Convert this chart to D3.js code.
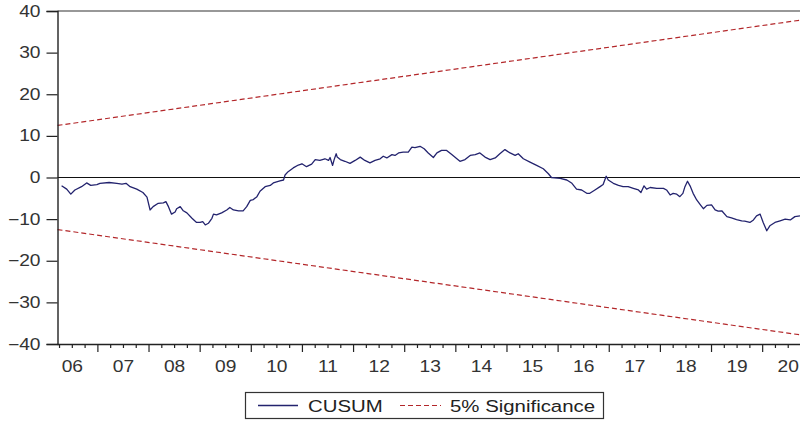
<!DOCTYPE html>
<html>
<head>
<meta charset="utf-8">
<script src="https://cdn.jsdelivr.net/npm/d3@7/dist/d3.min.js"></script>
<style>
  html, body { margin: 0; padding: 0; background: #fff; }
  svg { display: block; font-family: "Liberation Sans", Arial, sans-serif; }
</style>
</head>
<body>
<svg id="chart" width="800" height="425"></svg>
<script>
// CUSUM of recursive residuals (decimal year, cumulative sum)
const cusumDates = [
  2006.30, 2006.40, 2006.48, 2006.56, 2006.69, 2006.79, 2006.87, 2006.99,
  2007.05, 2007.23, 2007.38, 2007.48, 2007.56, 2007.64, 2007.77, 2007.89, 2007.97,
  2008.03, 2008.09, 2008.19, 2008.29, 2008.34, 2008.39, 2008.45, 2008.52, 2008.55,
  2008.62, 2008.68, 2008.75, 2008.85, 2008.94,
  2009.01, 2009.06, 2009.11, 2009.17, 2009.24, 2009.27, 2009.33, 2009.43, 2009.53,
  2009.59, 2009.66, 2009.76, 2009.85, 2009.92, 2009.99,
  2010.05, 2010.12, 2010.18, 2010.28, 2010.38, 2010.44, 2010.57, 2010.64, 2010.67,
  2010.73, 2010.83, 2010.93,
  2011.00, 2011.09, 2011.19, 2011.26, 2011.35, 2011.45, 2011.52, 2011.55, 2011.60,
  2011.63, 2011.67, 2011.69, 2011.75, 2011.84, 2011.94,
  2012.04, 2012.14, 2012.23, 2012.33, 2012.43, 2012.53, 2012.59, 2012.66, 2012.76,
  2012.82, 2012.89, 2012.98,
  2013.08, 2013.15, 2013.21, 2013.31, 2013.39, 2013.47, 2013.57, 2013.64, 2013.73,
  2013.83, 2013.93,
  2014.03, 2014.09, 2014.19, 2014.29, 2014.39, 2014.48, 2014.58, 2014.68, 2014.78,
  2014.87, 2014.97,
  2015.07, 2015.17, 2015.23, 2015.33, 2015.46, 2015.59, 2015.72, 2015.82, 2015.88,
  2016.05, 2016.18, 2016.28, 2016.37, 2016.47, 2016.57, 2016.63, 2016.73, 2016.83,
  2016.89, 2016.95, 2016.99,
  2017.09, 2017.19, 2017.28, 2017.38, 2017.48, 2017.58, 2017.63, 2017.69, 2017.74,
  2017.81, 2017.94,
  2018.07, 2018.13, 2018.20, 2018.26, 2018.33, 2018.39, 2018.45, 2018.49, 2018.54,
  2018.59, 2018.65, 2018.72, 2018.80, 2018.85, 2018.92,
  2019.01, 2019.08, 2019.14, 2019.21, 2019.31, 2019.40, 2019.50, 2019.60, 2019.66,
  2019.76, 2019.83, 2019.89, 2019.96,
  2020.02, 2020.09, 2020.15, 2020.25, 2020.35, 2020.45, 2020.55, 2020.64, 2020.74
];
const cusumValues = [
  -2.0, -2.8, -4.0, -3.0, -2.2, -1.3, -1.9, -1.7,
  -1.4, -1.2, -1.4, -1.6, -1.4, -2.2, -2.8, -3.6, -4.7,
  -7.8, -7.0, -6.2, -6.1, -5.8, -7.0, -8.8, -8.3, -7.5,
  -7.0, -8.0, -8.5, -9.8, -10.8,
  -10.8, -10.6, -11.4, -11.0, -9.8, -8.8, -9.0, -8.5, -7.8,
  -7.2, -7.8, -8.0, -8.0, -7.0, -5.5,
  -5.3, -4.6, -3.3, -2.2, -1.9, -1.3, -0.8, -0.6, 0.6,
  1.4, 2.3, 3.0,
  3.3, 2.6, 3.2, 4.3, 4.1, 4.5, 4.1, 4.8, 2.9,
  4.3, 5.7, 4.9, 4.3, 3.9, 3.4,
  4.1, 4.9, 4.1, 3.5, 4.1, 4.5, 5.1, 4.7, 5.5,
  5.3, 5.9, 6.1,
  6.1, 7.3, 7.2, 7.5, 6.9, 5.9, 4.8, 5.9, 6.5,
  6.5, 5.5,
  4.5, 3.9, 4.3, 5.3, 5.5, 5.9, 4.9, 4.3, 4.7,
  5.7, 6.7,
  5.9, 5.3, 5.7, 4.5, 3.7, 2.9, 2.1, 0.9, 0.0,
  -0.2, -0.6, -1.4, -2.8, -3.0, -3.8, -3.8, -3.0, -2.2,
  -1.7, 0.3, -0.6,
  -1.4, -1.9, -2.2, -2.2, -2.6, -3.0, -3.6, -2.0, -2.8,
  -2.4, -2.6,
  -2.6, -3.0, -4.2, -3.8, -4.0, -4.6, -3.8, -2.2, -0.9,
  -2.0, -3.8, -5.4, -6.7, -7.5, -6.7,
  -6.6, -7.8, -8.1, -8.0, -9.4, -9.7, -10.1, -10.4, -10.5,
  -10.8, -10.2, -9.2, -8.8,
  -10.8, -12.8, -11.6, -10.8, -10.4, -10.0, -10.2, -9.4, -9.2
];

// 5% significance bounds (straight lines between the two end dates)
const boundDates = [2006.22, 2020.74];
const upperBound = [12.5, 37.8];
const lowerBound = [-12.5, -37.8];

// Axis ticks and labels
const yTicks = [-40, -30, -20, -10, 0, 10, 20, 30, 40];
const yearLabels = ["06", "07", "08", "09", "10", "11", "12", "13", "14", "15", "16", "17", "18", "19", "20"];
const firstYear = 2006;
const legendLabels = ["CUSUM", "5% Significance"];

const svg = d3.select("#chart");
const plot = { left: 57.5, right: 800, top: 11, bottom: 344 };
const textStretch = 1.2;
const ink = "#222";

const x = d3.scaleLinear().domain([2006.22, 2020.74]).range([plot.left, plot.right]);
const y = d3.scaleLinear().domain([-40, 40]).range([plot.bottom, plot.top]);

// Frame: top border and zero line
svg.append("line")
  .attr("x1", plot.left).attr("x2", plot.right)
  .attr("y1", y(40)).attr("y2", y(40))
  .attr("stroke", "#333").attr("stroke-width", 1.2);
svg.append("line")
  .attr("x1", plot.left).attr("x2", plot.right)
  .attr("y1", y(0)).attr("y2", y(0))
  .attr("stroke", "#111").attr("stroke-width", 1.2);

// Significance bounds
const boundLine = d3.line().x(d => x(d[0])).y(d => y(d[1]));
[upperBound, lowerBound].forEach(b => {
  svg.append("path")
    .datum(boundDates.map((d, i) => [d, b[i]]))
    .attr("d", boundLine)
    .attr("fill", "none")
    .attr("stroke", "#b3272a")
    .attr("stroke-width", 1.2)
    .attr("stroke-dasharray", "5,3");
});

// CUSUM line
svg.append("path")
  .datum(cusumDates.map((d, i) => [d, cusumValues[i]]))
  .attr("d", d3.line().x(d => x(d[0])).y(d => y(d[1])))
  .attr("fill", "none")
  .attr("stroke", "#23236e")
  .attr("stroke-width", 1.3)
  .attr("stroke-linejoin", "round");

// Y axis
const yAxis = svg.append("g")
  .attr("transform", `translate(${plot.left},0)`)
  .call(d3.axisLeft(y).tickValues(yTicks).tickSize(11).tickPadding(0).tickFormat(d3.format("d")));
yAxis.select(".domain").attr("stroke", ink).attr("stroke-width", 1.4);
yAxis.selectAll(".tick line").attr("stroke", ink).attr("stroke-width", 1.2);
yAxis.selectAll(".tick text")
  .attr("x", null)
  .attr("transform", `translate(-17,0) scale(${textStretch},1)`)
  .attr("font-size", 16)
  .attr("font-family", "'Liberation Sans', Arial, sans-serif")
  .attr("fill", "#333");

// X axis: quarterly minor ticks, yearly major ticks, year labels centred in each year
const quarters = d3.range(0, 59).map(i => 2006.25 + i * 0.25).filter(q => q % 1 !== 0);
const yearStarts = yearLabels.map((_, i) => firstYear + i).filter(v => v >= 2006.22);
const xMinor = svg.append("g")
  .attr("transform", `translate(0,${plot.bottom})`)
  .call(d3.axisBottom(x).tickValues(quarters.filter(q => q <= 2020.74)).tickSize(4).tickFormat(""));
xMinor.select(".domain").attr("stroke", ink).attr("stroke-width", 1.4)
  .attr("d", `M${plot.left},0.5H${plot.right}`);
xMinor.selectAll(".tick line").attr("stroke", ink).attr("stroke-width", 1.2);

const xMajor = svg.append("g")
  .attr("transform", `translate(0,${plot.bottom})`)
  .call(d3.axisBottom(x).tickValues(yearStarts).tickSize(8).tickFormat(""));
xMajor.select(".domain").remove();
xMajor.selectAll(".tick line").attr("stroke", ink).attr("stroke-width", 1.2);

const xLabels = svg.append("g")
  .attr("transform", `translate(0,${plot.bottom})`)
  .call(d3.axisBottom(x).tickValues(yearLabels.map((_, i) => firstYear + i + 0.5))
    .tickSize(0).tickFormat((d, i) => yearLabels[i]));
xLabels.select(".domain").remove();
xLabels.selectAll(".tick text")
  .attr("y", null).attr("dy", null)
  .attr("transform", `translate(0,28) scale(${textStretch},1)`)
  .attr("font-size", 16)
  .attr("font-family", "'Liberation Sans', Arial, sans-serif")
  .attr("fill", "#333");

// Legend
const legend = svg.append("g");
legend.append("rect")
  .attr("x", 245.5).attr("y", 392.5).attr("width", 358).attr("height", 26)
  .attr("fill", "#fff").attr("stroke", "#333").attr("stroke-width", 1.2);
legend.append("line")
  .attr("x1", 258).attr("x2", 298).attr("y1", 405.5).attr("y2", 405.5)
  .attr("stroke", "#23236e").attr("stroke-width", 1.3);
legend.append("line")
  .attr("x1", 400).attr("x2", 441).attr("y1", 405.5).attr("y2", 405.5)
  .attr("stroke", "#b3272a").attr("stroke-width", 1.2).attr("stroke-dasharray", "5,3");
[[308, legendLabels[0]], [450, legendLabels[1]]].forEach(([lx, label]) => {
  legend.append("text")
    .attr("transform", `translate(${lx},412) scale(${textStretch},1)`)
    .attr("font-size", 17)
    .attr("fill", "#222")
    .text(label);
});
</script>
</body>
</html>
